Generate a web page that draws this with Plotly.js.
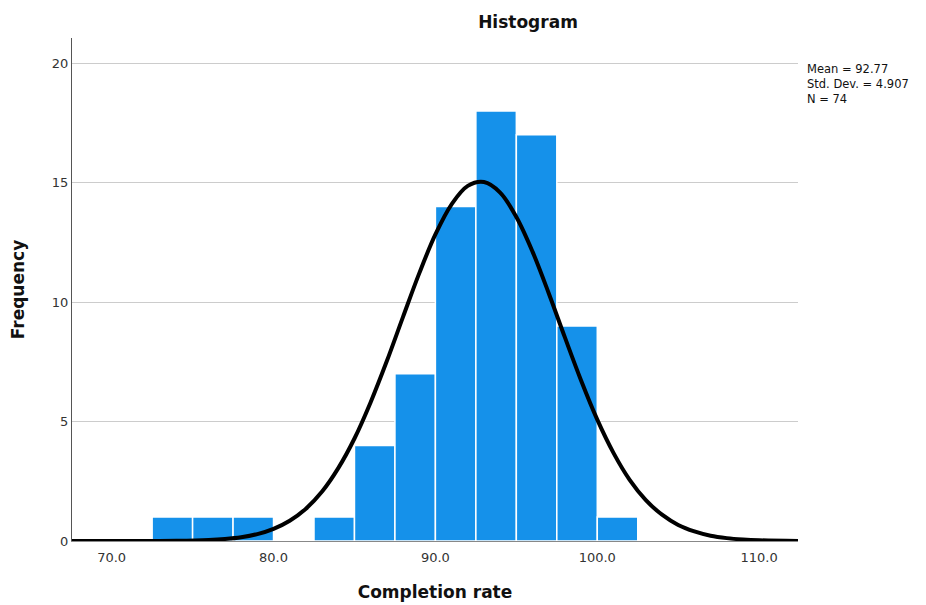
<!DOCTYPE html>
<html>
<head>
<meta charset="utf-8">
<script src="https://cdn.plot.ly/plotly-3.0.1.min.js"></script>
<style>html,body{margin:0;padding:0;background:#fff;}#chart{width:926px;height:605px;}</style>
</head>
<body>
<div id="chart"></div>
<script>
// Histogram bins (bin centers, width 2.5) and counts
const binCenters = [73.75, 76.25, 78.75, 81.25, 83.75, 86.25, 88.75, 91.25, 93.75, 96.25, 98.75, 101.25];
const binCounts  = [1, 1, 1, 0, 1, 4, 7, 14, 18, 17, 9, 1];
const binWidth = 2.5;

// Fitted normal curve
const curveX = [67.5, 70, 72, 74, 76, 77, 78, 79, 80, 81, 82, 83, 84, 85, 86, 87, 88, 89, 90, 91, 92, 93, 94, 95, 96, 97, 98, 99, 100, 101, 102, 103, 104, 105, 106, 107, 108, 109, 110, 112.4];
const curveY = [0, 0, 0.002, 0.01, 0.044, 0.086, 0.16, 0.29, 0.51, 0.85, 1.35, 2.07, 3.05, 4.29, 5.81, 7.53, 9.38, 11.20, 12.83, 14.09, 14.86, 15.02, 14.58, 13.56, 12.11, 10.37, 8.52, 6.72, 5.08, 3.69, 2.56, 1.71, 1.10, 0.67, 0.40, 0.22, 0.12, 0.063, 0.03, 0.005];

const statsLines = ["Mean = 92.77", "Std. Dev. = 4.907", "N = 74"];
const xTickVals = [70, 80, 90, 100, 110];
const xTickText = ["70.0", "80.0", "90.0", "100.0", "110.0"];
const yTickVals = [0, 5, 10, 15, 20];

const font = "DejaVu Sans, Lucida Grande, sans-serif";

const traces = [
  {
    type: 'bar',
    x: binCenters,
    y: binCounts,
    width: binWidth,
    marker: {color: '#1591EA', line: {color: '#ffffff', width: 1.5}},
    hoverinfo: 'x+y'
  },
  {
    type: 'scatter',
    mode: 'lines',
    x: curveX,
    y: curveY,
    line: {color: '#000000', width: 4, shape: 'spline', smoothing: 1},
    hoverinfo: 'skip'
  }
];

const layout = {
  width: 926,
  height: 605,
  margin: {l: 72, r: 128, t: 38, b: 64},
  paper_bgcolor: '#ffffff',
  plot_bgcolor: '#ffffff',
  showlegend: false,
  bargap: 0,
  title: {
    text: '<b>Histogram</b>',
    font: {family: font, size: 17, color: '#111'},
    x: 528/926, xanchor: 'center', xref: 'container',
    y: 1 - 22/605, yanchor: 'middle', yref: 'container'
  },
  xaxis: {
    range: [67.55, 112.4],
    tickvals: xTickVals,
    ticktext: xTickText,
    tickfont: {family: font, size: 13, color: '#333'},
    showgrid: false,
    zeroline: false,
    showline: true,
    linecolor: '#888',
    linewidth: 1,
    ticks: 'outside',
    ticklen: 4,
    tickcolor: 'rgba(0,0,0,0)',
    title: {text: '<b>Completion rate</b>', font: {family: font, size: 17, color: '#111'}, standoff: 22}
  },
  yaxis: {
    range: [0, 21.05],
    tickvals: yTickVals,
    tickfont: {family: font, size: 13, color: '#333'},
    showgrid: true,
    gridcolor: '#cccccc',
    gridwidth: 1,
    zeroline: false,
    showline: true,
    linecolor: '#555',
    linewidth: 1,
    ticks: '',
    title: {text: '<b>Frequency</b>', font: {family: font, size: 17, color: '#111'}, standoff: 22}
  },
  annotations: [{
    xref: 'paper', yref: 'paper',
    x: 1, y: 1 - (61 - 38) / 503,
    xshift: 8,
    xanchor: 'left', yanchor: 'top',
    align: 'left',
    showarrow: false,
    borderpad: 0,
    text: statsLines.join('<br>'),
    font: {family: font, size: 11.5, color: '#111'}
  }]
};

Plotly.newPlot('chart', traces, layout, {displayModeBar: false, staticPlot: true});
</script>
</body>
</html>
